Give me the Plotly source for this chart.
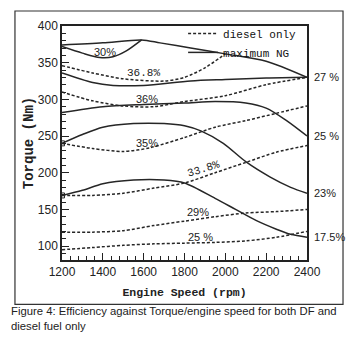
import plotly.graph_objects as go

# ---- data (engine speed rpm, torque Nm) ----
top_rpm = [1200, 1400, 1590, 1680, 1830, 2000, 2200, 2400]
top_nm = [374, 377, 381, 377, 370, 362, 352, 330]

eff30_rpm = [1200, 1300, 1385, 1450, 1515, 1590]
eff30_nm = [372, 363, 357, 358, 366, 381]

s368_rpm = [1200, 1350, 1450, 1600, 1830, 2000, 2200, 2400]
s368_nm = [336, 323, 319, 319, 325, 327, 329, 330]

s25_rpm = [1200, 1400, 1600, 1800, 1950, 2100, 2200, 2300, 2400]
s25_nm = [282, 290, 293, 295, 297, 295, 288, 271, 250]

s23_rpm = [1200, 1300, 1400, 1550, 1700, 1800, 1880, 1990, 2100, 2220, 2320, 2400]
s23_nm = [240, 252, 262, 267, 267, 264, 257, 240, 215, 194, 180, 172]

s175_rpm = [1200, 1300, 1400, 1550, 1700, 1800, 1950, 2050, 2150, 2250, 2320, 2400]
s175_nm = [169, 176, 185, 190, 190, 186, 165, 150, 135, 123, 116, 112]

d368_rpm = [1200, 1350, 1500, 1700, 1800, 1900, 2000]
d368_nm = [346, 336, 328, 325, 330, 343, 362]

d36_rpm = [1200, 1350, 1500, 1650, 1800, 2000, 2200, 2400]
d36_nm = [310, 298, 291, 290, 297, 305, 320, 330]

d35_rpm = [1200, 1350, 1500, 1630, 1800, 1950, 2100, 2250, 2400]
d35_nm = [240, 233, 229, 234, 248, 262, 271, 281, 291]

d338_rpm = [1200, 1350, 1500, 1650, 1800, 1950, 2100, 2250, 2400]
d338_nm = [169, 169, 172, 179, 186, 200, 214, 228, 237]

d29_rpm = [1200, 1350, 1500, 1650, 1800, 1950, 2100, 2250, 2400]
d29_nm = [119, 119, 121, 128, 134, 140, 145, 147, 150]

d25_rpm = [1200, 1350, 1500, 1650, 1800, 1950, 2100, 2250, 2400]
d25_nm = [95, 98, 101, 103, 104, 105, 107, 112, 120]

start_rpm = [1200, 1200]
start_nm = [240, 169]

# inner labels
in_text = ["30%", "36.8%", "36%", "35%", "33.8%", "29%", "25 %"]
in_rpm = [1410, 1600, 1615, 1615, 1895, 1866, 1876]
in_nm = [365, 336, 301, 240, 205, 146, 112]
in_angle = [0, 0, 0, 0, -17, 0, 0]

# right-edge labels
r_text = ["27 %", "25 %", "23%", "17.5%"]
r_nm = [331, 250, 172, 113]

LINE = "#262626"
DASH = "3px,2px"
MONO = "Courier New, Liberation Mono, monospace"
SANS = "Arial, Liberation Sans, sans-serif"

fig = go.Figure()

dashed = [(d368_rpm, d368_nm), (d36_rpm, d36_nm), (d35_rpm, d35_nm),
          (d338_rpm, d338_nm), (d29_rpm, d29_nm), (d25_rpm, d25_nm)]
solid = [(top_rpm, top_nm), (eff30_rpm, eff30_nm), (s368_rpm, s368_nm),
         (s25_rpm, s25_nm), (s23_rpm, s23_nm), (s175_rpm, s175_nm)]

for i, (x, y) in enumerate(dashed):
    fig.add_trace(go.Scatter(x=x, y=y, mode="lines", line=dict(color=LINE, width=1.5, dash=DASH, shape="spline", smoothing=0.8),
                             name="diesel only", legendgroup="d", showlegend=(i == 0)))
for i, (x, y) in enumerate(solid):
    fig.add_trace(go.Scatter(x=x, y=y, mode="lines", line=dict(color=LINE, width=1.5, shape="spline", smoothing=0.8),
                             name="maximum NG", legendgroup="s", showlegend=(i == 0)))

fig.add_trace(go.Scatter(x=start_rpm, y=start_nm, mode="markers", showlegend=False,
                         marker=dict(symbol="square-open", size=5, color=LINE, line=dict(width=1))))

for t, xv, yv, a in zip(in_text, in_rpm, in_nm, in_angle):
    fig.add_annotation(x=xv, y=yv, text=t, showarrow=False, textangle=a,
                       font=dict(family=MONO if "." in t else SANS, size=11, color="#222"))

for t, yv in zip(r_text, r_nm):
    fig.add_annotation(x=2400, y=yv, text=t, showarrow=False, xanchor="left", xshift=5,
                       font=dict(family=SANS, size=11, color="#222"))

# outer frame
fig.add_shape(type="rect", xref="paper", yref="paper", x0=-0.192, x1=1.147, y0=-0.19, y1=1.064,
              line=dict(color="#333", width=1.2), fillcolor="rgba(0,0,0,0)", layer="below")

# caption
fig.add_annotation(xref="paper", yref="paper", x=-0.218, y=-0.185, xanchor="left", yanchor="top",
                   align="left", showarrow=False,
                   text="Figure 4: Efficiency against Torque/engine speed for both DF and<br>diesel fuel only",
                   font=dict(family=SANS, size=11.3, color="#222"))

fig.update_layout(
    width=349, height=330,
    margin=dict(l=54, r=50, t=17, b=78),
    paper_bgcolor="white", plot_bgcolor="white",
    legend=dict(x=0.98, y=1.026, xanchor="right", yanchor="top", bgcolor="rgba(0,0,0,0)",
                font=dict(family=MONO, size=11, color="#111"), itemwidth=30,
                tracegroupgap=0, traceorder="normal"),
    xaxis=dict(range=[1200, 2400], dtick=200, tick0=1200, ticks="inside", ticklen=7, tickwidth=1.2,
               tickcolor="#222", showline=True, linecolor="#222", linewidth=1.5, mirror=True,
               showgrid=False, zeroline=False,
               minor=dict(dtick=40, ticks="inside", ticklen=4, tickcolor="#222", tickwidth=1),
               tickfont=dict(family=SANS, size=12, color="#222"),
               title=dict(text="<b>Engine Speed (rpm)</b>", font=dict(family=MONO, size=11.5, color="#222"), standoff=10)),
    yaxis=dict(range=[81, 400], dtick=50, tick0=100, ticks="inside", ticklen=7, tickwidth=1.2,
               tickcolor="#222", showline=True, linecolor="#222", linewidth=1.5, mirror=True,
               showgrid=False, zeroline=False,
               minor=dict(dtick=10, ticks="inside", ticklen=4, tickcolor="#222", tickwidth=1),
               tickfont=dict(family=SANS, size=12, color="#222"),
               title=dict(text="<b>Torque (Nm)</b>", font=dict(family=MONO, size=14, color="#222"), standoff=1)),
)

fig.write_html("out.html")
